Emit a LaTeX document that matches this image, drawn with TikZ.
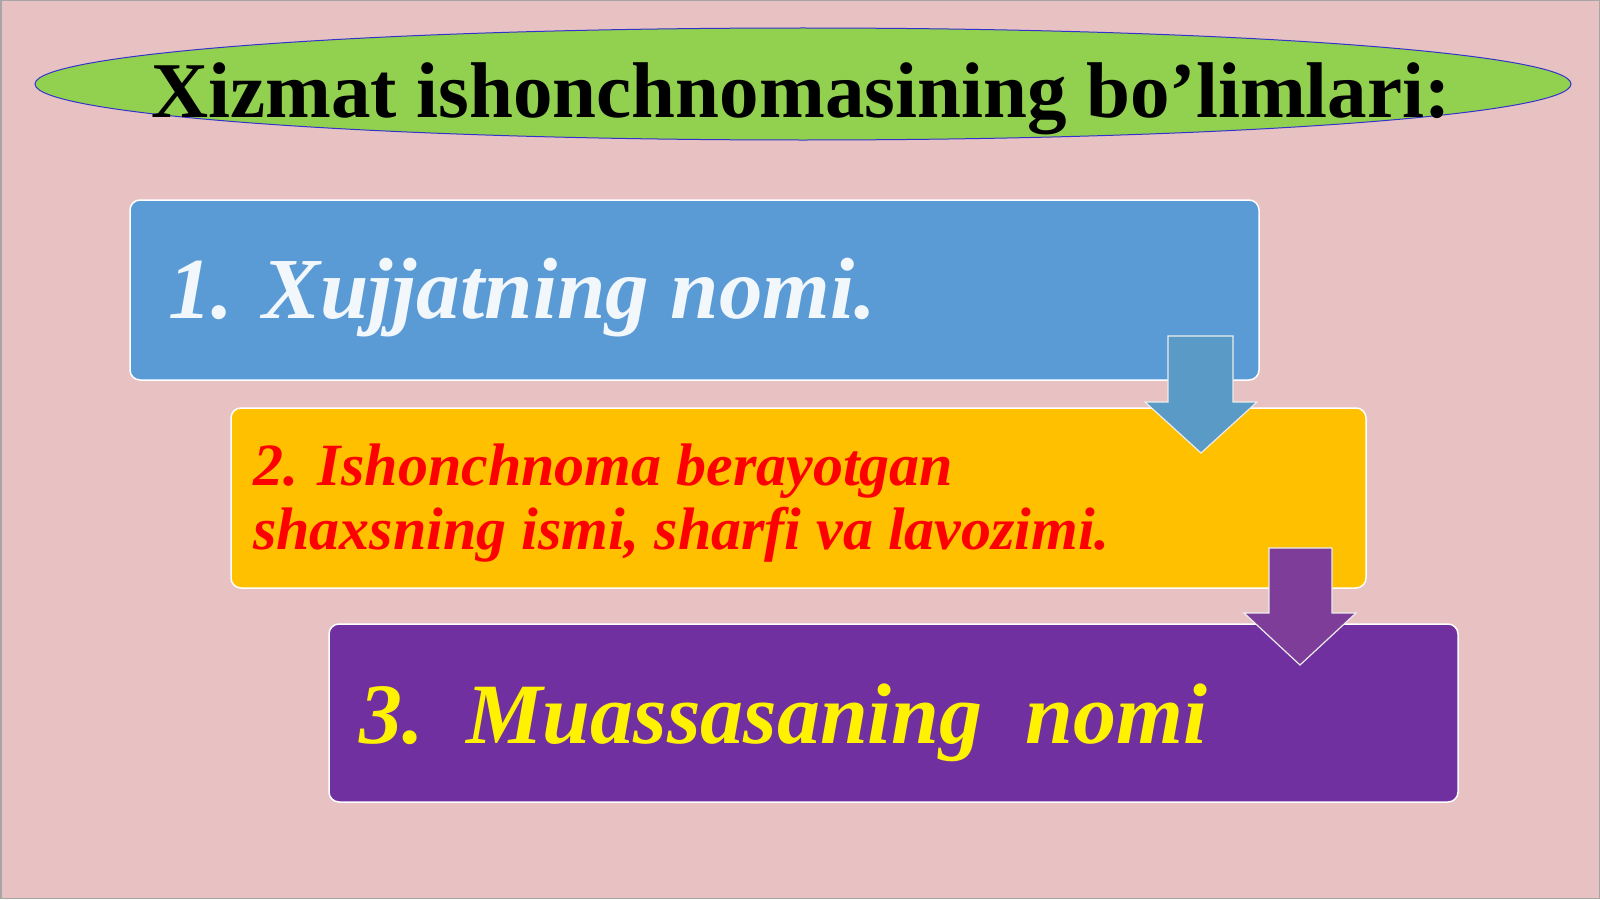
\documentclass[tikz,border=0pt]{standalone}
\usepackage{fontspec}
\setmainfont{Liberation Serif}
\usetikzlibrary{shapes.geometric}

\definecolor{bgpink}{HTML}{E8C2C3}
\definecolor{titlegreen}{HTML}{92D050}
\definecolor{boxblue}{HTML}{5B9BD5}
\definecolor{arrowblue}{HTML}{5A9AC6}
\definecolor{boxgold}{HTML}{FFC000}
\definecolor{boxpurple}{HTML}{7030A0}
\definecolor{arrowpurple}{HTML}{7E3D98}

\begin{document}
\begin{tikzpicture}[x=1pt,y=-1pt,
                    every node/.style={inner sep=0pt,outer sep=0pt},
                    partbox/.style={draw=white,line width=1.5pt,rounded corners=10pt,anchor=north west},
                    downarrow/.style={draw=white!85!gray,line width=1.2pt,line join=miter},
                    parttext/.style={anchor=base west,font=\bfseries\itshape}
]

% background
\fill[bgpink] (0,0) rectangle (1600,899);
\draw[gray!70,line width=1.5pt] (0.75,0.75) rectangle (1599.25,898.25);
%
\node [ellipse,fill=titlegreen,draw=blue!60!gray,line width=1pt,
       minimum width=1536,minimum height=112] at (803,84) (title) {};
\node [anchor=base,font=\fontsize{79}{90}\selectfont\bfseries] at (801,117) (titletext) {Xizmat ishonchnomasining bo’limlari:};
%
\node [partbox,fill=boxblue,minimum width=1129,minimum height=180] at (130,200) (part1) {};
\node [parttext,text=white!92!boxblue,font=\fontsize{87}{100}\selectfont\bfseries\itshape] at (168,318) (part1text) {1. Xujjatning nomi.};
%
\node [partbox,fill=boxgold,minimum width=1135,minimum height=180] at (231,408) (part2) {};
\node [parttext,text=red,font=\fontsize{60}{64}\selectfont\bfseries\itshape,align=left] at (253,549) (part2text) {2. Ishonchnoma berayotgan\\shaxsning ismi, sharfi va lavozimi.};
%
\draw[downarrow,fill=arrowblue] (1168,336) -- (1233,336) -- (1233,402) -- (1257,402) -- (1201,453)
     -- (1145,402) -- (1168,402) -- cycle;
%
\node [partbox,fill=boxpurple,minimum width=1129,minimum height=178] at (329,624) (part3) {};
\node [parttext,text=yellow,font=\fontsize{86}{95}\selectfont\bfseries\itshape] at (359,743) (part3text) {3.\ \ Muassasaning\ \ nomi};
%
\draw[downarrow,fill=arrowpurple] (1269,548) -- (1332,548) -- (1332,613) -- (1356,613) -- (1300,665)
     -- (1244,613) -- (1269,613) -- cycle;
\end{tikzpicture}
\end{document}
